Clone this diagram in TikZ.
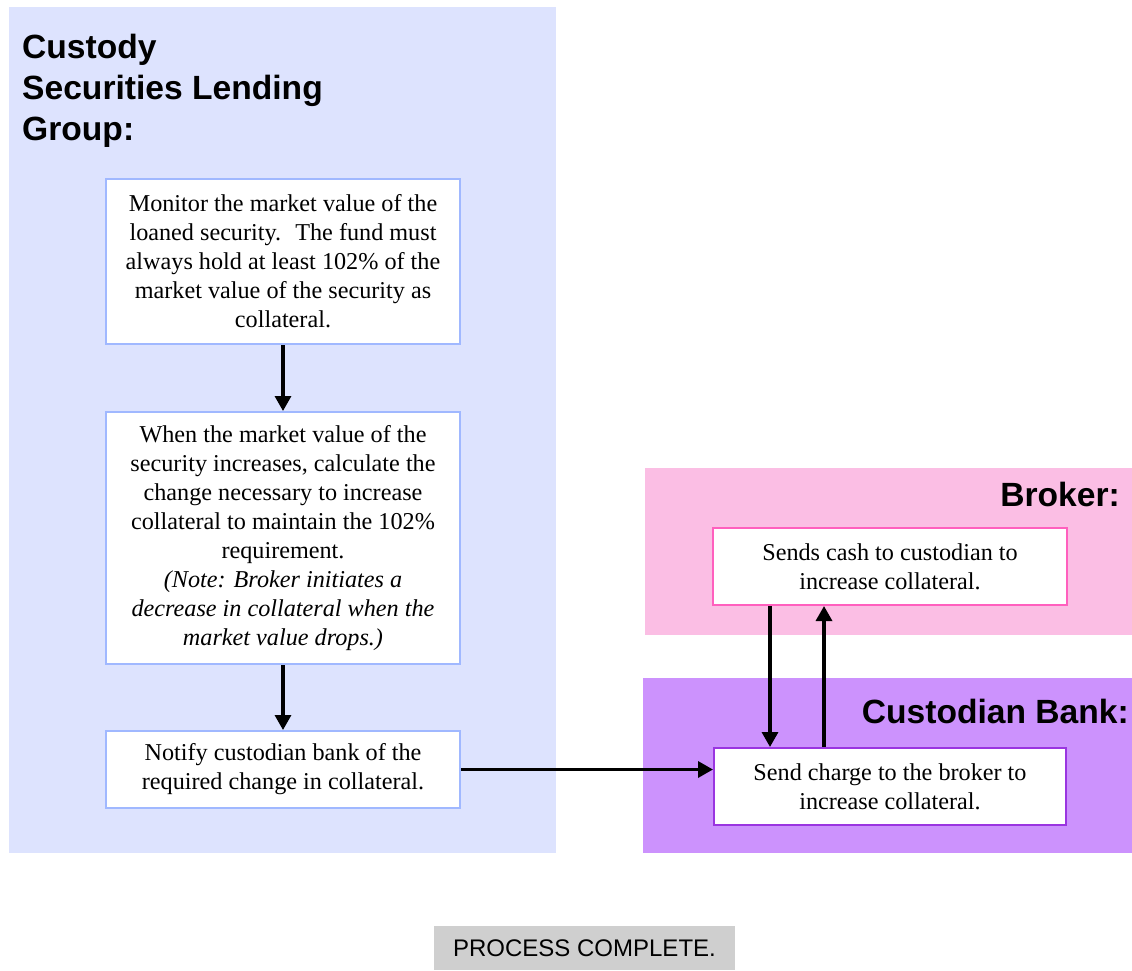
\documentclass[tikz,border=0pt]{standalone}
\usepackage{fontspec}
\setmainfont{Liberation Serif}
\setsansfont{Liberation Sans}
\usetikzlibrary{arrows.meta}

\definecolor{laneblue}{RGB}{221,227,254}
\definecolor{lanepink}{RGB}{251,190,228}
\definecolor{lanepurple}{RGB}{204,146,253}
\definecolor{edgeblue}{RGB}{160,184,255}
\definecolor{edgepink}{RGB}{255,95,190}
\definecolor{edgepurple}{RGB}{154,53,224}
\definecolor{donegray}{RGB}{207,207,207}

\tikzset{
  lane/.style={draw=none, inner sep=0pt, anchor=north west},
  lanetitle/.style={font=\sffamily\bfseries\fontsize{33.6}{41}\selectfont, inner sep=0pt, align=left},
  stepbox/.style={draw, line width=2pt, fill=white, inner sep=0pt, align=center,
    font=\fontsize{24.2}{29}\selectfont},
  flow/.style={line width=3.3pt, -{Triangle[length=15pt,width=16pt]}},
}

\begin{document}
\begin{tikzpicture}[x=1pt, y=-1pt]
  \useasboundingbox (0,0) rectangle (1132,970);

  % swimlanes
  \node[lane, fill=laneblue, minimum width=547pt, minimum height=846pt] (lendlane) at (9,7) {};
  \node[lane, fill=lanepink, minimum width=487pt, minimum height=167pt] (brokerlane) at (645,468) {};
  \node[lane, fill=lanepurple, minimum width=489pt, minimum height=175pt] (banklane) at (643,678) {};

  % lane headings
  \node[lanetitle, anchor=north west] (lendtitle) at (22,34) {Custody\\Securities Lending\\Group:};
  \node[lanetitle, anchor=base east] (brokertitle) at (1120,506) {Broker:};
  \node[lanetitle, anchor=base east] (banktitle) at (1129,723) {Custodian Bank:};

  % process steps
  \node[stepbox, draw=edgeblue, minimum width=354pt, minimum height=165pt] (monitor) at (283,261.5)
    {Monitor the market value of the\\loaned security.~ The fund must\\always hold at least 102\% of the\\market value of the security as\\collateral.};
  \node[stepbox, draw=edgeblue, minimum width=354pt, minimum height=252pt] (calc) at (283,538)
    {When the market value of the\\security increases, calculate the\\change necessary to increase\\collateral to maintain the 102\%\\requirement.\\
     \itshape (Note: Broker initiates a\\\itshape decrease in collateral when the\\\itshape market value drops.)};
  \node[stepbox, draw=edgeblue, minimum width=354pt, minimum height=77pt] (notify) at (283,769.5)
    {Notify custodian bank of the\\required change in collateral.};
  \node[stepbox, draw=edgepink, minimum width=354pt, minimum height=77pt] (cash) at (890,566.5)
    {Sends cash to custodian to\\increase collateral.};
  \node[stepbox, draw=edgepurple, minimum width=352pt, minimum height=77pt] (charge) at (890,786.5)
    {Send charge to the broker to\\increase collateral.};

  % end marker
  \node[fill=donegray, minimum width=301pt, minimum height=44pt, inner sep=0pt,
        font=\sffamily\fontsize{24}{28}\selectfont] (done) at (584.5,948) {PROCESS COMPLETE.};

  % connectors
  \draw[flow] (monitor.south) -- (calc.north);
  \draw[flow] (calc.south) -- (notify.north);
  \draw[flow] (notify.east) -- (notify.east -| charge.west);
  \draw[flow] (cash.south -| 770,0) -- (charge.north -| 770,0);
  \draw[flow] (charge.north -| 824,0) -- (cash.south -| 824,0);
\end{tikzpicture}
\end{document}
